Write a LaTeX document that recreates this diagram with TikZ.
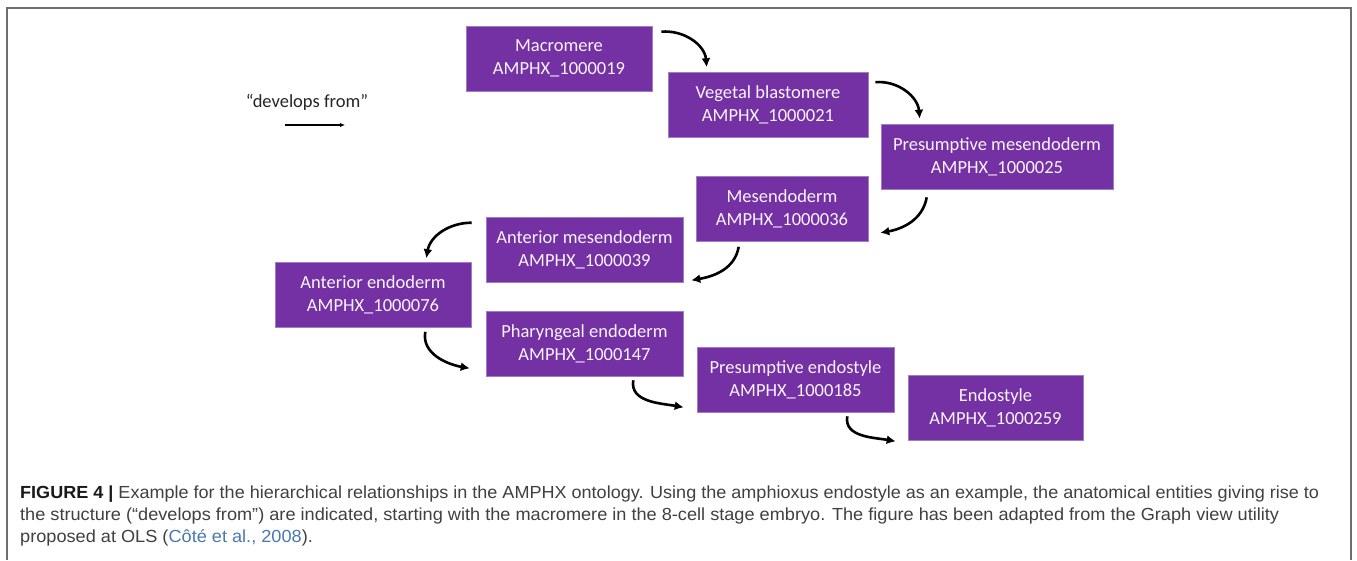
\documentclass[tikz,border=0pt]{standalone}
\usepackage{fontspec}
\setmainfont{Carlito}
\newfontfamily\capfont{Liberation Sans}
\usetikzlibrary{arrows.meta,calc}
\definecolor{boxpurple}{HTML}{7431A3}
\definecolor{boxedge}{HTML}{A07CC6}
\definecolor{boxtext}{HTML}{FBF3FC}
\definecolor{capgray}{HTML}{404040}
\definecolor{citeblue}{HTML}{4A78B0}
\definecolor{framegray}{HTML}{6E6E6E}
\newlength\capw
\newcommand\fitline[2]{\settowidth\capw{#2}\pgfmathsetmacro\capsc{#1/\capw}\xdef\lastcapsc{\capsc}\scalebox{\capsc}[1]{#2}}
\begin{document}
\begin{tikzpicture}[x=1pt,y=1pt,
  ent/.style={draw=boxedge, line width=0.6pt, fill=boxpurple, text=boxtext,
    align=center, inner sep=0pt, minimum height=65pt,
    font=\fontsize{18.5}{23}\selectfont},
  dev/.style={line width=2.6pt, black, -{Latex[length=9pt,width=9pt]}},
  legarrow/.style={line width=1.3pt, black, -{Latex[length=5pt,width=4.5pt]}},
  capline/.style={anchor=base west, inner sep=0pt, text=capgray,
    font=\capfont\fontsize{17.5}{21}\selectfont}]
\useasboundingbox (0,0) rectangle (1357,-560);
\fill[white] (0,0) rectangle (1357,-560);
% frame
\draw[framegray, line width=1.2pt] (7,-560) -- (7,-8) -- (1351,-8) -- (1351,-560);

% legend
\node[font=\fontsize{18.5}{23}\selectfont, text=black!85] (leg) at (307,-102) {“develops from”};
\coordinate (la) at (285,-125);
\coordinate (lb) at (345,-125);
\draw[legarrow] (la) -- (lb);

% entities
\node[ent, minimum width=186pt] (mac) at (559,-58.5) {Macromere\\AMPHX\_1000019};
\node[ent, minimum width=200pt] (veg) at (768,-105) {Vegetal blastomere\\AMPHX\_1000021};
\node[ent, minimum width=232pt] (pmes) at (997,-156.5) {Presumptive mesendoderm\\AMPHX\_1000025};
\node[ent, minimum width=172pt] (mes) at (782,-209) {Mesendoderm\\AMPHX\_1000036};
\node[ent, minimum width=197pt] (ames) at (584.5,-249.5) {Anterior mesendoderm\\AMPHX\_1000039};
\node[ent, minimum width=196pt] (aend) at (373,-295) {Anterior endoderm\\AMPHX\_1000076};
\node[ent, minimum width=197pt] (phar) at (584.5,-343.5) {Pharyngeal endoderm\\AMPHX\_1000147};
\node[ent, minimum width=197pt] (pend) at (795.5,-379.5) {Presumptive endostyle\\AMPHX\_1000185};
\node[ent, minimum width=175pt] (endo) at (995.5,-407.5) {Endostyle\\AMPHX\_1000259};

% connectors
\draw[dev] ([xshift=9pt,yshift=-6pt]mac.north east) to[out=5,in=95] ([xshift=39pt,yshift=5pt]veg.north west);
\draw[dev] ([xshift=7pt,yshift=-10pt]veg.north east) to[out=5,in=95] ([xshift=39pt,yshift=5pt]pmes.north west);
\draw[dev] ([xshift=46pt,yshift=-8pt]pmes.south west) to[out=-100,in=10] ([xshift=12pt,yshift=9pt]mes.south east);
\draw[dev] ([xshift=43pt,yshift=-5pt]mes.south west) to[out=-100,in=10] ([xshift=8pt,yshift=2pt]ames.south east);
\draw[dev] ([xshift=-14pt,yshift=-6pt]ames.north west) to[out=180,in=80] ([xshift=-45pt,yshift=4pt]aend.north east);
\draw[dev] ([xshift=-46pt,yshift=-4pt]aend.south east) to[out=-100,in=170] ([xshift=-16pt,yshift=8pt]phar.south west);
\draw[dev] ([xshift=-50pt,yshift=-4pt]phar.south east) to[out=-100,in=170] ([xshift=-13pt,yshift=5pt]pend.south west);
\draw[dev] ([xshift=-47pt,yshift=-4pt]pend.south east) to[out=-100,in=170] ([xshift=-12pt,yshift=-1pt]endo.south west);

% caption
\node[capline] (cap1) at (20,-498) {\fitline{1299pt}{\textbf{\color{black!90}FIGURE 4 |} Example for the hierarchical relationships in the AMPHX ontology. Using the amphioxus endostyle as an example, the anatomical entities giving rise to}};
\node[capline] (cap2) at (20,-520) {\fitline{1259pt}{the structure (“develops from”) are indicated, starting with the macromere in the 8-cell stage embryo. The figure has been adapted from the Graph view utility}};
\node[capline] (cap3) at (20,-542) {\scalebox{\lastcapsc}[1]{proposed at OLS ({\color{citeblue}Côté et al., 2008}).}};
\end{tikzpicture}
\end{document}
